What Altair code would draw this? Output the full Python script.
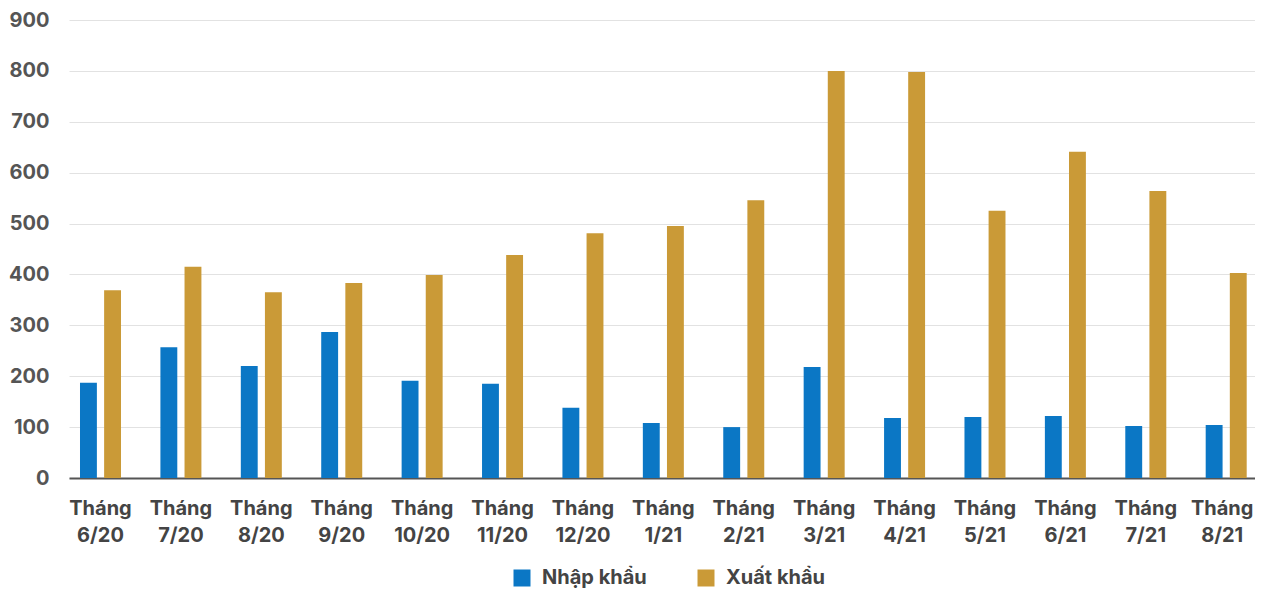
import altair as alt
import pandas as pd

categories = ["Tháng 6/20", "Tháng 7/20", "Tháng 8/20", "Tháng 9/20", "Tháng 10/20",
              "Tháng 11/20", "Tháng 12/20", "Tháng 1/21", "Tháng 2/21", "Tháng 3/21",
              "Tháng 4/21", "Tháng 5/21", "Tháng 6/21", "Tháng 7/21", "Tháng 8/21"]
nhap_khau = [187, 257, 220, 287, 191, 185, 138, 108, 100, 218, 118, 120, 122, 102, 104]
xuat_khau = [369, 415, 365, 383, 399, 438, 481, 495, 546, 800, 798, 525, 641, 564, 403]
series = ["Nhập khẩu", "Xuất khẩu"]
colors = ["#0b77c5", "#ca9a37"]
y_ticks = [0, 100, 200, 300, 400, 500, 600, 700, 800, 900]

rows = []
for i, c in enumerate(categories):
    rows.append({"thang": c, "loai": series[0], "value": nhap_khau[i]})
    rows.append({"thang": c, "loai": series[1], "value": xuat_khau[i]})
df = pd.DataFrame(rows)

FONT = "Inter"
last_label = categories[-1]

chart = alt.Chart(df).mark_bar().encode(
    x=alt.X("thang:N", sort=categories, title=None,
            scale=alt.Scale(paddingInner=0.49, paddingOuter=0.12, align=0.57),
            axis=alt.Axis(labelAngle=0, ticks=False, domainColor="#555555", domainWidth=2,
                          labelExpr="split(datum.value, ' ')", labelLineHeight=27,
                          labelPadding=20, labelFontSize=20, labelFont=FONT,
                          labelFontWeight="bold", labelColor="#444444", grid=False,
                          labelBaseline="top",
                          labelOffset={"condition": {"test": f"datum.value === '{last_label}'",
                                                     "value": -4},
                                       "value": 0})),
    xOffset=alt.XOffset("loai:N", sort=series,
                        scale=alt.Scale(paddingInner=0.3, paddingOuter=0)),
    y=alt.Y("value:Q", title=None,
            scale=alt.Scale(domain=[0, 900], nice=False),
            axis=alt.Axis(values=y_ticks, domain=False, ticks=False, labelPadding=20,
                          labelFontSize=20, labelFont=FONT, labelFontWeight="bold",
                          labelColor="#555555", gridColor="#e2e2e2", gridWidth=1)),
    color=alt.Color("loai:N", sort=series,
                    scale=alt.Scale(domain=series, range=colors),
                    legend=alt.Legend(title=None, orient="none", direction="horizontal",
                                      legendX=443, legendY=548, symbolType="square",
                                      symbolSize=289, symbolStrokeWidth=0,
                                      labelFontSize=20, labelFont=FONT,
                                      labelFontWeight="bold", labelColor="#444444",
                                      labelOffset=10, columnPadding=49, padding=0)),
).properties(
    width=1186, height=458,
    autosize=alt.AutoSizeParams(type="none"),
    padding={"left": 61, "top": 12, "right": 0, "bottom": 110},
).configure_view(stroke=None)

chart.save("out.html", embed_options={"renderer": "svg", "actions": False})
